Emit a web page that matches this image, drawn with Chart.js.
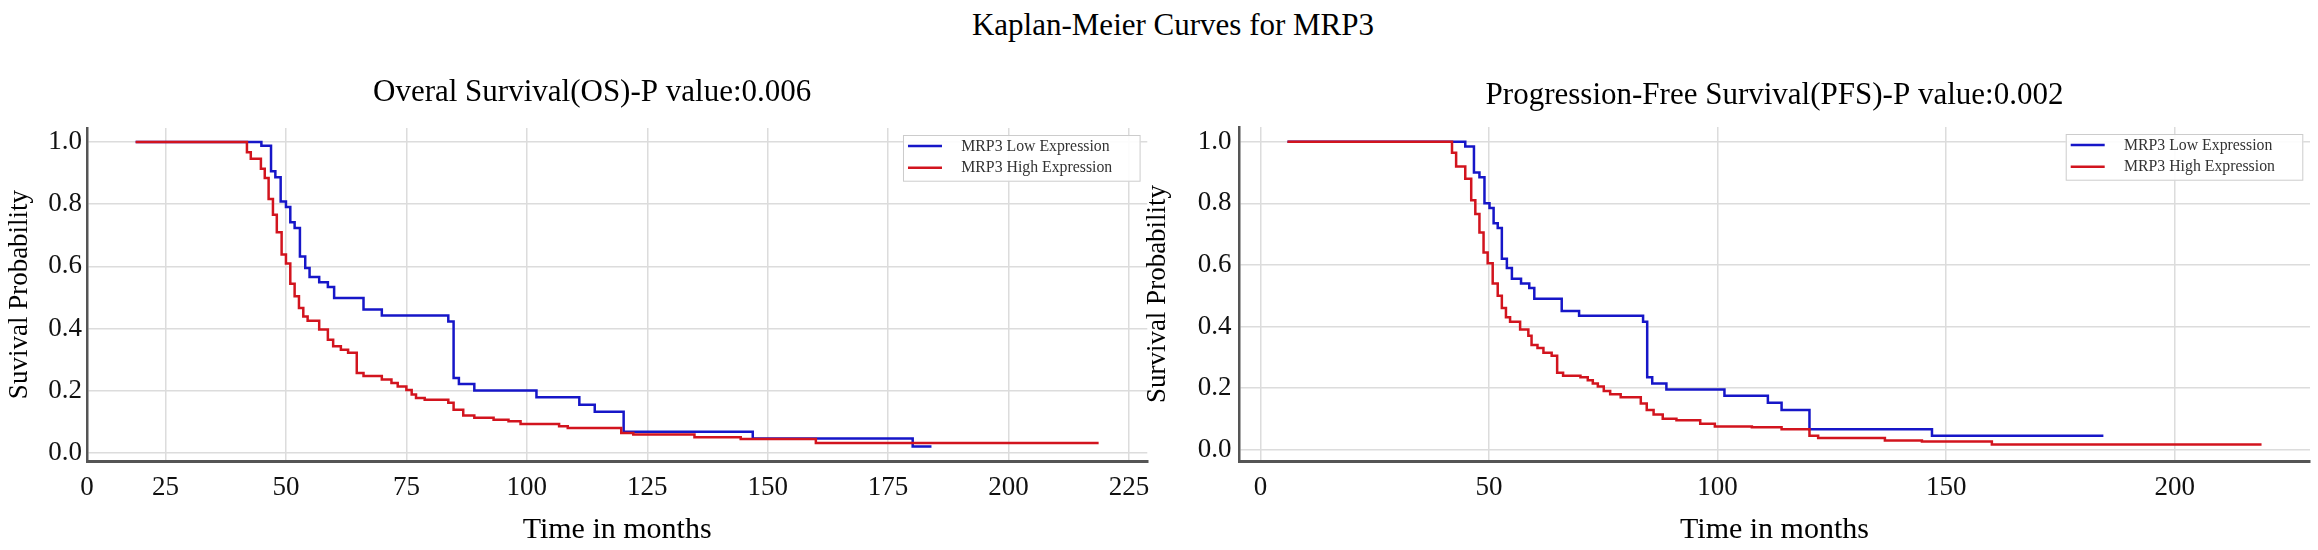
<!DOCTYPE html>
<html><head><meta charset="utf-8">
<script src="https://cdn.jsdelivr.net/npm/chart.js@4.4.1/dist/chart.umd.min.js"></script>
<style>
html,body{margin:0;padding:0;background:#fff;}
body{width:2318px;height:550px;position:relative;overflow:hidden;}
#sup{position:absolute;left:0;top:6.5px;width:2318px;padding-left:28px;box-sizing:border-box;text-align:center;font:31px/36px "Liberation Serif",serif;color:#000;white-space:nowrap;}
.panel{position:absolute;top:0;height:550px;}
#p1{left:0;width:1160px;}
#p2{left:1135px;width:1183px;}
</style></head>
<body>
<div id="sup">Kaplan-Meier Curves for MRP3</div>
<div class="panel" id="p1"><canvas id="c1"></canvas></div>
<div class="panel" id="p2"><canvas id="c2"></canvas></div>
<script>
// ---------------- data ----------------
const SERIES_LABELS = ['MRP3 Low Expression', 'MRP3 High Expression'];

const OS_LOW_T = [18.8, 44.9, 46.9, 47.8, 48.9, 50.0, 50.9, 51.8, 52.9, 54.0, 54.9, 56.9, 58.7, 60.0, 66.1, 69.9, 83.7, 84.8, 85.9, 89.1, 102.0, 110.9, 114.1, 120.1, 146.9, 180.1, 184.0];
const OS_LOW_S = [1.0, 0.988, 0.906, 0.887, 0.809, 0.791, 0.742, 0.723, 0.632, 0.595, 0.566, 0.549, 0.534, 0.498, 0.461, 0.442, 0.423, 0.241, 0.222, 0.201, 0.179, 0.155, 0.132, 0.068, 0.046, 0.021, 0.021];

const OS_HIGH_T = [18.8, 41.9, 42.7, 44.8, 45.6, 46.4, 47.3, 48.1, 49.1, 50.0, 50.9, 51.8, 52.7, 53.6, 54.5, 56.9, 58.7, 59.8, 61.4, 62.9, 64.7, 66.1, 69.9, 71.9, 73.2, 75.0, 76.1, 77.0, 78.8, 83.7, 84.8, 86.8, 89.1, 93.1, 96.2, 98.7, 106.7, 108.5, 119.6, 122.1, 134.8, 144.4, 160.0, 218.7];
const OS_HIGH_S = [1.0, 0.967, 0.946, 0.914, 0.884, 0.817, 0.766, 0.710, 0.638, 0.609, 0.544, 0.504, 0.466, 0.439, 0.425, 0.397, 0.364, 0.343, 0.332, 0.322, 0.257, 0.247, 0.236, 0.225, 0.214, 0.202, 0.188, 0.177, 0.171, 0.161, 0.139, 0.120, 0.113, 0.107, 0.102, 0.093, 0.086, 0.080, 0.064, 0.059, 0.050, 0.045, 0.032, 0.032];

const PFS_LOW_T = [5.9, 44.8, 46.7, 47.9, 49.0, 50.1, 51.0, 51.9, 52.8, 53.9, 55.0, 57.0, 58.8, 59.9, 65.9, 69.7, 83.7, 84.6, 85.7, 88.8, 101.5, 111.0, 114.0, 120.1, 146.9, 184.4];
const PFS_LOW_S = [1.0, 0.985, 0.900, 0.885, 0.800, 0.785, 0.735, 0.720, 0.620, 0.590, 0.555, 0.540, 0.525, 0.490, 0.450, 0.435, 0.415, 0.235, 0.215, 0.195, 0.175, 0.152, 0.129, 0.066, 0.045, 0.045];

const PFS_HIGH_T = [5.9, 41.9, 42.8, 44.8, 46.1, 47.0, 47.9, 48.8, 49.7, 50.8, 51.9, 52.8, 53.7, 54.6, 56.8, 58.6, 59.3, 60.6, 61.9, 63.7, 64.9, 66.2, 70.0, 71.6, 72.7, 73.8, 75.1, 76.5, 78.8, 83.2, 84.5, 86.0, 88.0, 91.0, 96.2, 99.4, 107.5, 114.0, 120.1, 122.0, 136.6, 144.7, 160.0, 219.0];
const PFS_HIGH_S = [1.0, 0.964, 0.920, 0.880, 0.810, 0.765, 0.705, 0.640, 0.605, 0.540, 0.500, 0.460, 0.430, 0.415, 0.390, 0.370, 0.340, 0.330, 0.315, 0.305, 0.250, 0.240, 0.235, 0.225, 0.215, 0.205, 0.190, 0.180, 0.170, 0.150, 0.129, 0.114, 0.100, 0.095, 0.084, 0.075, 0.073, 0.066, 0.045, 0.038, 0.030, 0.026, 0.017, 0.017];

const OS_X_TICKS = [0, 25, 50, 75, 100, 125, 150, 175, 200, 225];
const PFS_X_TICKS = [0, 50, 100, 150, 200];
const Y_TICKS = [0.0, 0.2, 0.4, 0.6, 0.8, 1.0];

const OS_TITLE = 'Overal Survival(OS)-P value:0.006';
const PFS_TITLE = 'Progression-Free Survival(PFS)-P value:0.002';
const X_TITLE = 'Time in months';
const OS_Y_TITLE = 'Suvival Probability';
const PFS_Y_TITLE = 'Survival Probability';

// ---------------- styling ----------------
const FONT = '"Liberation Serif", "Times New Roman", serif';
const BLUE = '#1616c8';
const RED = '#d2141e';
const GRID = '#dcdcdc';

function pts(T, S) { return T.map((t, i) => ({ x: t, y: S[i] })); }

const decor = {
  id: 'decor',
  afterDraw(chart, args, o) {
    const { ctx, chartArea: a } = chart;
    ctx.save();
    // subplot title
    ctx.font = '31px ' + FONT;
    ctx.fillStyle = '#000';
    ctx.textAlign = 'center';
    ctx.textBaseline = 'alphabetic';
    ctx.fillText(o.title, (a.left + a.right) / 2 + o.titleDx, o.titleBaseline);
    // legend
    const w = 237.6, h = 46.7;
    const x0 = a.right - 6.7 - w, y0 = a.top + 7;
    ctx.fillStyle = 'rgba(255,255,255,0.9)';
    ctx.fillRect(x0, y0, w, h);
    ctx.strokeStyle = '#cccccc';
    ctx.lineWidth = 1;
    ctx.strokeRect(x0 + 0.5, y0 + 0.5, w - 1, h - 1);
    const rows = [11, 32.7];
    ctx.font = '15.8px ' + FONT;
    ctx.textAlign = 'left';
    ctx.textBaseline = 'middle';
    chart.data.datasets.forEach((ds, i) => {
      const yy = y0 + rows[i];
      ctx.strokeStyle = ds.borderColor;
      ctx.lineWidth = 2.5;
      ctx.beginPath();
      ctx.moveTo(x0 + 5, yy);
      ctx.lineTo(x0 + 39, yy);
      ctx.stroke();
      ctx.fillStyle = '#333';
      ctx.fillText(ds.label, x0 + 58.3, yy + 0.5);
    });
    ctx.restore();
  }
};

function makeChart(id, cfg) {
  const datasets = [
    { label: SERIES_LABELS[0], data: pts(cfg.lowT, cfg.lowS), borderColor: BLUE, order: 1 },
    { label: SERIES_LABELS[1], data: pts(cfg.highT, cfg.highS), borderColor: RED, order: 0 }
  ].map(d => Object.assign(d, { borderWidth: 2.5, pointRadius: 0, stepped: 'before', fill: false, tension: 0 }));

  return new Chart(document.getElementById(id), {
    type: 'line',
    data: { datasets },
    plugins: [decor],
    options: {
      responsive: true,
      maintainAspectRatio: false,
      animation: false,
      events: [],
      layout: { padding: { top: cfg.top, left: 0, right: cfg.padRight, bottom: 0 } },
      plugins: {
        legend: { display: false },
        title: { display: false },
        tooltip: { enabled: false },
        decor: { title: cfg.title, titleDx: cfg.titleDx, titleBaseline: cfg.titleBaseline }
      },
      scales: {
        x: {
          type: 'linear',
          min: cfg.xMin, max: cfg.xMax,
          afterBuildTicks: s => { s.ticks = cfg.xTicks.map((v, i) => ({ value: (i === 0 && cfg.firstAtMin) ? s.min : v })); },
          afterFit: s => { s.height = 89; },
          ticks: {
            callback: (v, i) => String(cfg.xTicks[i]),
            font: { family: FONT, size: 27 }, color: '#111', padding: 10.7,
            maxRotation: 0, autoSkip: false
          },
          grid: { color: GRID, lineWidth: 1.5, drawTicks: false },
          border: { display: true, color: '#555', width: 3 },
          title: { display: true, text: X_TITLE, color: '#000', font: { family: FONT, size: 30 }, padding: { top: 0, bottom: 2.1 } }
        },
        y: {
          min: cfg.yMin, max: cfg.yMax,
          afterBuildTicks: s => { s.ticks = Y_TICKS.map(v => ({ value: v })); },
          afterFit: s => { s.width = cfg.yWidth; },
          ticks: {
            callback: v => Number(v).toFixed(1),
            font: { family: FONT, size: 27 }, color: '#111', padding: cfg.yPad
          },
          grid: { color: GRID, lineWidth: 1.5, drawTicks: false },
          border: { display: true, color: '#555', width: 2.5 },
          title: { display: true, text: cfg.yTitle, color: '#000', font: { family: FONT, size: 27 }, padding: { top: cfg.yTitlePad, bottom: 0 } }
        }
      }
    }
  });
}

makeChart('c1', {
  lowT: OS_LOW_T, lowS: OS_LOW_S, highT: OS_HIGH_T, highS: OS_HIGH_S,
  xTicks: OS_X_TICKS, firstAtMin: true, xMin: 8.7, xMax: 228.8,
  yMin: -0.026, yMax: 1.045,
  top: 128, padRight: 4, yWidth: 87, yPad: 5, yTitlePad: 3.6,
  title: OS_TITLE, titleDx: -25, titleBaseline: 100.5, yTitle: OS_Y_TITLE
});

makeChart('c2', {
  lowT: PFS_LOW_T, lowS: PFS_LOW_S, highT: PFS_HIGH_T, highS: PFS_HIGH_S,
  xTicks: PFS_X_TICKS, firstAtMin: false, xMin: -4.7, xMax: 229.6,
  yMin: -0.037, yMax: 1.048,
  top: 127, padRight: 8, yWidth: 104, yPad: 7.6, yTitlePad: 7.1,
  title: PFS_TITLE, titleDx: 0, titleBaseline: 104, yTitle: PFS_Y_TITLE
});
</script>
</body></html>
